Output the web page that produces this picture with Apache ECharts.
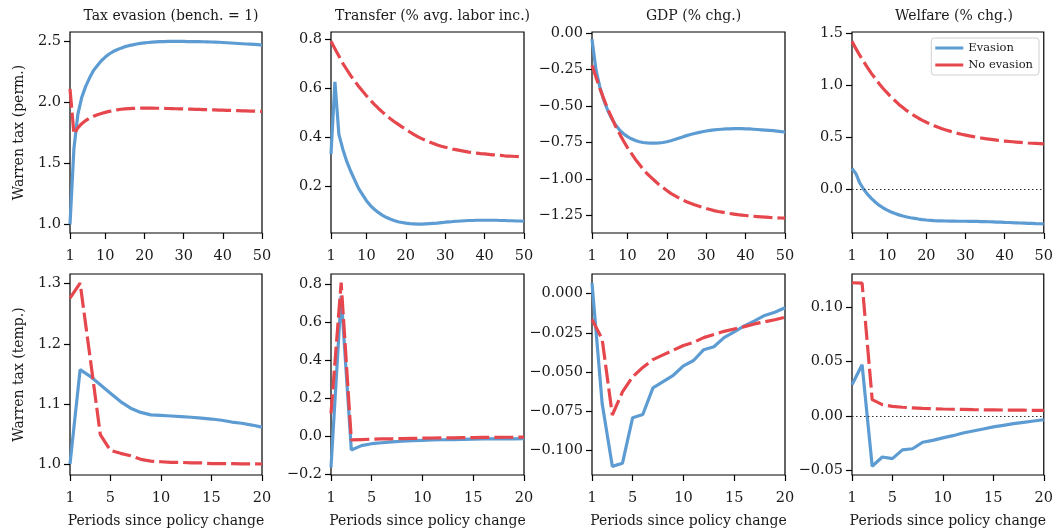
<!DOCTYPE html>
<html><head><meta charset="utf-8">
<script src="https://cdn.jsdelivr.net/npm/echarts@6/dist/echarts.min.js"></script>
<style>html,body{margin:0;padding:0;background:#fff}#c{width:1056px;height:532px}</style>
</head><body><div id="c"></div>
<script>
// ---------- DATA ----------
const panelTitles = ['Tax evasion (bench. = 1)', 'Transfer (% avg. labor inc.)', 'GDP (% chg.)', 'Welfare (% chg.)'];
const rowLabels = ['Warren tax (perm.)', 'Warren tax (temp.)'];
const xAxisLabel = 'Periods since policy change';
const seriesNames = ['Evasion', 'No evasion'];

const periodsLong = Array.from({length: 50}, (_, i) => i + 1);
const periodsShort = Array.from({length: 20}, (_, i) => i + 1);
const xTicksLong = [1, 10, 20, 30, 40, 50];
const xTicksShort = [1, 5, 10, 15, 20];

// Permanent Warren tax
const permTaxEvasion = [1.0,1.62,1.90,2.04,2.13,2.20,2.26,2.30,2.34,2.37,2.395,2.415,2.43,2.443,2.455,2.463,2.47,2.477,2.482,2.486,
  2.489,2.492,2.494,2.496,2.497,2.498,2.498,2.498,2.498,2.498,2.497,2.497,2.496,2.496,2.495,2.494,2.493,2.492,2.491,2.489,
  2.487,2.485,2.483,2.481,2.479,2.477,2.475,2.473,2.471,2.468];
const permTaxNoEvasion = [2.11,1.74,1.79,1.825,1.85,1.87,1.885,1.898,1.908,1.917,1.925,1.932,1.938,1.943,1.946,1.948,1.95,1.951,1.952,1.952,
  1.952,1.952,1.951,1.951,1.95,1.949,1.948,1.947,1.946,1.945,1.944,1.943,1.942,1.941,1.94,1.939,1.938,1.937,1.936,1.935,
  1.934,1.933,1.932,1.931,1.93,1.929,1.928,1.927,1.926,1.925];
const permTransferEvasion = [0.33,0.625,0.41,0.35,0.30,0.26,0.225,0.19,0.165,0.14,0.12,0.105,0.092,0.081,0.072,0.065,0.059,0.054,0.051,0.048,
  0.046,0.045,0.044,0.044,0.045,0.046,0.047,0.048,0.05,0.052,0.053,0.055,0.056,0.057,0.058,0.059,0.059,0.06,0.06,0.06,
  0.06,0.06,0.06,0.059,0.059,0.058,0.058,0.057,0.057,0.056];
const permTransferNoEvasion = [0.79,0.76,0.73,0.70,0.675,0.65,0.628,0.607,0.587,0.568,0.55,0.533,0.517,0.502,0.488,0.475,0.463,0.452,0.441,0.431,
  0.42,0.41,0.401,0.393,0.386,0.379,0.373,0.367,0.362,0.358,0.354,0.35,0.347,0.344,0.341,0.338,0.336,0.334,0.332,0.331,
  0.329,0.327,0.326,0.325,0.323,0.322,0.321,0.32,0.319,0.318];
const permGdpEvasion = [-0.04,-0.25,-0.37,-0.46,-0.53,-0.585,-0.63,-0.665,-0.69,-0.71,-0.725,-0.737,-0.745,-0.75,-0.753,-0.755,-0.755,-0.753,-0.75,-0.745,
  -0.738,-0.73,-0.721,-0.712,-0.703,-0.695,-0.688,-0.682,-0.676,-0.671,-0.667,-0.664,-0.661,-0.659,-0.657,-0.656,-0.655,-0.655,-0.655,-0.656,
  -0.657,-0.659,-0.661,-0.663,-0.665,-0.667,-0.669,-0.672,-0.675,-0.678];
const permGdpNoEvasion = [-0.22,-0.30,-0.38,-0.45,-0.52,-0.58,-0.64,-0.69,-0.74,-0.785,-0.825,-0.865,-0.90,-0.935,-0.965,-0.99,-1.015,-1.04,-1.06,-1.08,
  -1.10,-1.115,-1.13,-1.145,-1.157,-1.168,-1.178,-1.187,-1.196,-1.204,-1.211,-1.218,-1.224,-1.229,-1.234,-1.238,-1.242,-1.246,-1.249,-1.252,
  -1.255,-1.257,-1.259,-1.261,-1.263,-1.265,-1.266,-1.268,-1.269,-1.27];
const permWelfareEvasion = [0.20,0.15,0.06,0.0,-0.05,-0.09,-0.125,-0.155,-0.18,-0.2,-0.218,-0.233,-0.246,-0.257,-0.266,-0.274,-0.28,-0.286,-0.291,-0.295,
  -0.298,-0.301,-0.303,-0.304,-0.305,-0.306,-0.306,-0.307,-0.307,-0.307,-0.308,-0.308,-0.309,-0.31,-0.311,-0.312,-0.313,-0.315,-0.316,-0.318,
  -0.319,-0.321,-0.322,-0.324,-0.325,-0.327,-0.328,-0.33,-0.331,-0.333];
const permWelfareNoEvasion = [1.42,1.35,1.285,1.225,1.165,1.11,1.06,1.01,0.965,0.925,0.885,0.85,0.815,0.785,0.755,0.73,0.705,0.682,0.662,0.643,
  0.626,0.61,0.595,0.582,0.569,0.558,0.547,0.537,0.528,0.52,0.512,0.505,0.498,0.492,0.486,0.481,0.476,0.471,0.467,0.463,
  0.459,0.456,0.453,0.45,0.447,0.444,0.442,0.44,0.438,0.436];

// Temporary Warren tax
const tempTaxEvasion = [1.0,1.157,1.146,1.132,1.118,1.104,1.093,1.086,1.082,1.081,1.080,1.079,1.078,1.0765,1.075,1.073,1.07,1.068,1.065,1.0615];
const tempTaxNoEvasion = [1.276,1.301,1.176,1.049,1.023,1.018,1.014,1.008,1.005,1.004,1.003,1.003,1.002,1.002,1.001,1.001,1.001,1.0005,1.0005,1.0003];
const tempTransferEvasion = [-0.165,0.74,-0.073,-0.05,-0.04,-0.035,-0.03,-0.027,-0.024,-0.022,-0.02,-0.019,-0.018,-0.017,-0.016,-0.015,-0.015,-0.014,-0.014,-0.013];
const tempTransferNoEvasion = [0.12,0.81,-0.02,-0.018,-0.016,-0.015,-0.014,-0.013,-0.012,-0.011,-0.01,-0.009,-0.009,-0.008,-0.008,-0.007,-0.007,-0.006,-0.006,-0.005];
const tempGdpEvasion = [0.0067,-0.07,-0.11,-0.108,-0.079,-0.077,-0.06,-0.056,-0.052,-0.046,-0.0426,-0.0357,-0.0338,-0.028,-0.0244,-0.0206,-0.0174,-0.0139,-0.0118,-0.009];
const tempGdpNoEvasion = [-0.0164,-0.029,-0.0773,-0.0626,-0.053,-0.047,-0.042,-0.039,-0.036,-0.033,-0.031,-0.028,-0.026,-0.024,-0.0225,-0.021,-0.0193,-0.0179,-0.0166,-0.015];
const tempWelfareEvasion = [0.0287,0.047,-0.046,-0.0375,-0.039,-0.031,-0.030,-0.024,-0.0223,-0.020,-0.018,-0.0156,-0.0137,-0.0119,-0.010,-0.0085,-0.007,-0.0058,-0.0046,-0.0034];
const tempWelfareNoEvasion = [0.122,0.1216,0.015,0.0104,0.0088,0.008,0.0075,0.007,0.0067,0.0064,0.0062,0.006,0.0058,0.0057,0.0056,0.0055,0.0054,0.0053,0.0052,0.0051];

// Y tick values per panel
const yTicks = [
  [1.0, 1.5, 2.0, 2.5], [0.2, 0.4, 0.6, 0.8], [0, -0.25, -0.5, -0.75, -1.0, -1.25], [0, 0.5, 1.0, 1.5],
  [1.0, 1.1, 1.2, 1.3], [-0.2, 0, 0.2, 0.4, 0.6, 0.8], [0, -0.025, -0.05, -0.075, -0.1], [-0.05, 0, 0.05, 0.1]
];
const yDecimals = [1, 1, 2, 1, 1, 1, 3, 2];
const yRanges = [[0.93, 2.575], [0.008, 0.828], [-1.372, 0.009], [-0.42, 1.51],
                 [0.982, 1.316], [-0.205, 0.855], [-0.1155, 0.0125], [-0.054, 0.130]];

// ---------- LAYOUT ----------
const BLUE = '#5d9cd3', RED = '#e5474d';
const FONT = 'DejaVu Serif';
const TXT = '#1a1a1a';
const colLeft = [70, 331, 592, 852];
const colWidth = [192, 193, 193, 194];
const rowTop = [32, 274];
const rowHeight = [201, 201];

const panels = [
  {x: periodsLong, b: permTaxEvasion, r: permTaxNoEvasion},
  {x: periodsLong, b: permTransferEvasion, r: permTransferNoEvasion},
  {x: periodsLong, b: permGdpEvasion, r: permGdpNoEvasion},
  {x: periodsLong, b: permWelfareEvasion, r: permWelfareNoEvasion, zero: true},
  {x: periodsShort, b: tempTaxEvasion, r: tempTaxNoEvasion},
  {x: periodsShort, b: tempTransferEvasion, r: tempTransferNoEvasion},
  {x: periodsShort, b: tempGdpEvasion, r: tempGdpNoEvasion},
  {x: periodsShort, b: tempWelfareEvasion, r: tempWelfareNoEvasion, zero: true}
];

const fmt = (v, d) => { const s = Math.abs(v).toFixed(d); return (v < -1e-12 ? '\u2212' : '') + s; };

const grid = [], xAxis = [], yAxis = [], series = [], title = [];
panels.forEach((p, i) => {
  const row = Math.floor(i / 4), col = i % 4;
  grid.push({left: colLeft[col], top: rowTop[row], width: colWidth[col], height: rowHeight[row],
    show: true, borderColor: '#000', borderWidth: 1.2, backgroundColor: 'transparent', containLabel: false});
  const xt = row === 0 ? xTicksLong : xTicksShort;
  xAxis.push({type: 'value', gridIndex: i, min: 1, max: row === 0 ? 50 : 20,
    axisLine: {show: false, onZero: false}, splitLine: {show: false},
    axisTick: {show: true, length: 6, customValues: xt, lineStyle: {color: '#000', width: 1.2}},
    axisLabel: {customValues: xt, color: TXT, fontFamily: FONT, fontSize: 14.5, margin: 16},
    name: row === 1 ? xAxisLabel : '', nameLocation: 'middle', nameGap: 39,
    nameTextStyle: {color: TXT, fontFamily: FONT, fontSize: 14}});
  const yt = yTicks[i], d = yDecimals[i];
  yAxis.push({type: 'value', gridIndex: i, min: yRanges[i][0], max: yRanges[i][1],
    axisLine: {show: false, onZero: false}, splitLine: {show: false},
    axisTick: {show: true, length: 6, customValues: yt, lineStyle: {color: '#000', width: 1.2}},
    axisLabel: {customValues: yt, color: TXT, fontFamily: FONT, fontSize: 14.5, margin: 9,
      formatter: v => fmt(v, d)},
    name: col === 0 ? rowLabels[row] : '', nameLocation: 'middle', nameGap: 44, nameRotate: 90,
    nameTextStyle: {color: TXT, fontFamily: FONT, fontSize: 14}});
  const blueSeries = {type: 'line', name: seriesNames[0], xAxisIndex: i, yAxisIndex: i,
    data: p.x.map((x, j) => [x, p.b[j]]), symbol: 'none', z: 2,
    lineStyle: {color: BLUE, width: 3.2}, itemStyle: {color: BLUE}};
  if (p.zero) {
    blueSeries.markLine = {silent: true, symbol: 'none', label: {show: false},
      lineStyle: {color: '#333', type: [1.5, 2.5], width: 1}, data: [{yAxis: 0}]};
  }
  series.push(blueSeries);
  series.push({type: 'line', name: seriesNames[1], xAxisIndex: i, yAxisIndex: i,
    data: p.x.map((x, j) => [x, p.r[j]]), symbol: 'none', z: 3,
    lineStyle: {color: RED, width: 3.2, type: [19, 5]}, itemStyle: {color: RED}});
  if (row === 0) {
    title.push({text: panelTitles[col], left: colLeft[col] + colWidth[col] / 2, top: 4, textAlign: 'center',
      textStyle: {color: TXT, fontFamily: FONT, fontSize: 14, fontWeight: 'normal'}});
  }
});

const chart = echarts.init(document.getElementById('c'), null, {renderer: 'canvas'});
chart.setOption({
  animation: false,
  backgroundColor: '#fff',
  title, grid, xAxis, yAxis, series,
  legend: {data: [{name: seriesNames[0], icon: 'path://M0,0H28V3H0Z'}, {name: seriesNames[1], icon: 'path://M0,0H28V3H0Z'}],
    orient: 'vertical', right: 17, top: 38,
    backgroundColor: '#fff', borderColor: '#d0d0d0', borderWidth: 1, borderRadius: 3,
    padding: [4, 6, 4, 4], itemGap: 5, itemWidth: 28, itemHeight: 3,
    textStyle: {color: TXT, fontFamily: FONT, fontSize: 11.5}}
});
</script></body></html>
